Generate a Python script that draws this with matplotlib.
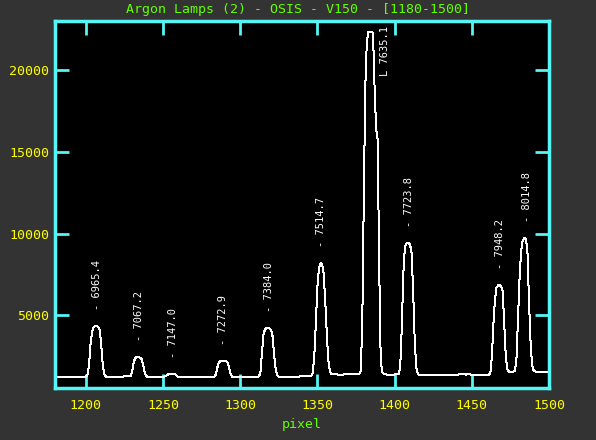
import matplotlib.pyplot as plt

# spectrum breakpoints (pixel, counts)
pixel = [1180, 1190, 1200, 1201, 1202, 1203, 1204, 1205, 1206, 1207, 1208, 1209, 1210, 1211, 1212, 1213,
         1220, 1229, 1230, 1231, 1232, 1233, 1234, 1235, 1236, 1237, 1238, 1239, 1240,
         1250, 1252, 1253, 1254, 1256, 1257, 1258, 1259, 1260,
         1270, 1283, 1284, 1285, 1286, 1287, 1288, 1289, 1290, 1291, 1292, 1293, 1294, 1295,
         1305, 1312, 1313, 1314, 1315, 1316, 1317, 1318, 1319, 1320, 1321, 1322, 1323, 1324, 1325,
         1335, 1346, 1347, 1348, 1349, 1350, 1351, 1352, 1353, 1354, 1355, 1356, 1357, 1358, 1359,
         1365, 1372, 1377, 1378, 1379, 1380, 1381, 1382, 1383, 1384, 1385, 1386, 1387, 1388, 1389,
         1390, 1391, 1392, 1393, 1396, 1402, 1403, 1404, 1405, 1406, 1407, 1408, 1409, 1410, 1411,
         1412, 1413, 1414, 1415, 1416, 1425, 1440, 1444, 1446, 1448, 1450, 1455, 1461, 1462, 1463,
         1464, 1465, 1466, 1467, 1468, 1469, 1470, 1471, 1472, 1473, 1474, 1477, 1478, 1479, 1480,
         1481, 1482, 1483, 1484, 1485, 1486, 1487, 1488, 1489, 1490, 1491, 1500]
counts = [1260, 1250, 1260, 1350, 1900, 3200, 4000, 4300, 4340, 4340, 4320, 4100, 3100, 1900, 1400, 1260,
          1250, 1280, 1600, 2150, 2400, 2450, 2450, 2420, 2350, 2050, 1550, 1300, 1240,
          1230, 1300, 1380, 1420, 1420, 1410, 1380, 1300, 1230,
          1220, 1230, 1350, 1750, 2100, 2200, 2230, 2230, 2220, 2200, 2100, 1700, 1350, 1230,
          1220, 1260, 1450, 2600, 3800, 4150, 4230, 4230, 4200, 4100, 3700, 2500, 1700, 1350, 1240,
          1250, 1300, 1500, 2600, 4600, 6800, 7900, 8200, 8150, 7600, 6000, 4000, 2300, 1600, 1400,
          1380, 1400, 1420, 1600, 4200, 12000, 19000, 21800, 22350, 22350, 22350, 22300, 19000, 16400, 15800,
          8000, 2200, 1550, 1400, 1380, 1390, 1450, 2500, 5500, 8500, 9300, 9450, 9450, 9350, 8800,
          6500, 3500, 1800, 1420, 1370, 1370, 1370, 1420, 1380, 1420, 1370, 1370, 1380, 1450, 2500,
          4500, 6000, 6700, 6850, 6850, 6800, 6500, 4500, 2500, 1700, 1570, 1570, 1600, 2500, 5000,
          7500, 9000, 9600, 9750, 9700, 9000, 6000, 3500, 2000, 1650, 1570, 1570]

# identified lines: pixel position, label anchor counts, wavelength
line_pix = [1207.5, 1234.5, 1256.5, 1289.0, 1318.5, 1352.5, 1393.5, 1409.5, 1468.0, 1485.5]
line_peak = [4340, 2450, 1420, 2230, 4230, 8200, 18700, 9450, 6850, 9750]
line_wave = ["6965.4", "7067.2", "7147.0", "7272.9", "7384.0", "7514.7", "7635.1",
             "7723.8", "7948.2", "8014.8"]

BG = "#333333"
CYAN = "#55f5f5"
YELLOW = "#ffff00"
GREEN = "#66ff00"
MONO = "DejaVu Sans Mono"

fig = plt.figure(figsize=(5.96, 4.4), dpi=100, facecolor=BG)
ax = fig.add_axes([55 / 596, 52 / 440, 494 / 596, 367 / 440])
ax.set_facecolor("black")

ax.plot(pixel, counts, color="white", lw=0.72, antialiased=False)

for x, y, w in zip(line_pix, line_peak, line_wave):
    mark = "L" if w == "7635.1" else "-"
    ax.annotate(f"{mark} {w}", (x, y), xytext=(0, 11.5), textcoords="offset points",
                rotation=90, ha="center", va="bottom", color="white",
                fontsize=7.5, family=MONO)

ax.set_xlim(1180, 1500)
ax.set_ylim(560, 23030)
ax.set_xticks([1200, 1250, 1300, 1350, 1400, 1450, 1500])
ax.set_yticks([5000, 10000, 15000, 20000])

ax.tick_params(direction="in", length=10, width=2, color=CYAN,
               top=True, right=True, labelcolor=YELLOW, labelsize=9.5)
ax.tick_params(axis="x", pad=8)
ax.tick_params(axis="y", pad=4)
for lab in ax.get_xticklabels() + ax.get_yticklabels():
    lab.set_family(MONO)
for s in ax.spines.values():
    s.set_color(CYAN)
    s.set_linewidth(2.5)

ax.set_xlabel("pixel", color=GREEN, fontsize=9.5, family=MONO, labelpad=4)
fig.text(0.5, 1 - 9 / 440, "Argon Lamps (2) - OSIS - V150 - [1180-1500]",
         ha="center", va="center", color=GREEN, fontsize=9.5, family=MONO)

fig.savefig("out.png", dpi=100, facecolor=BG)
